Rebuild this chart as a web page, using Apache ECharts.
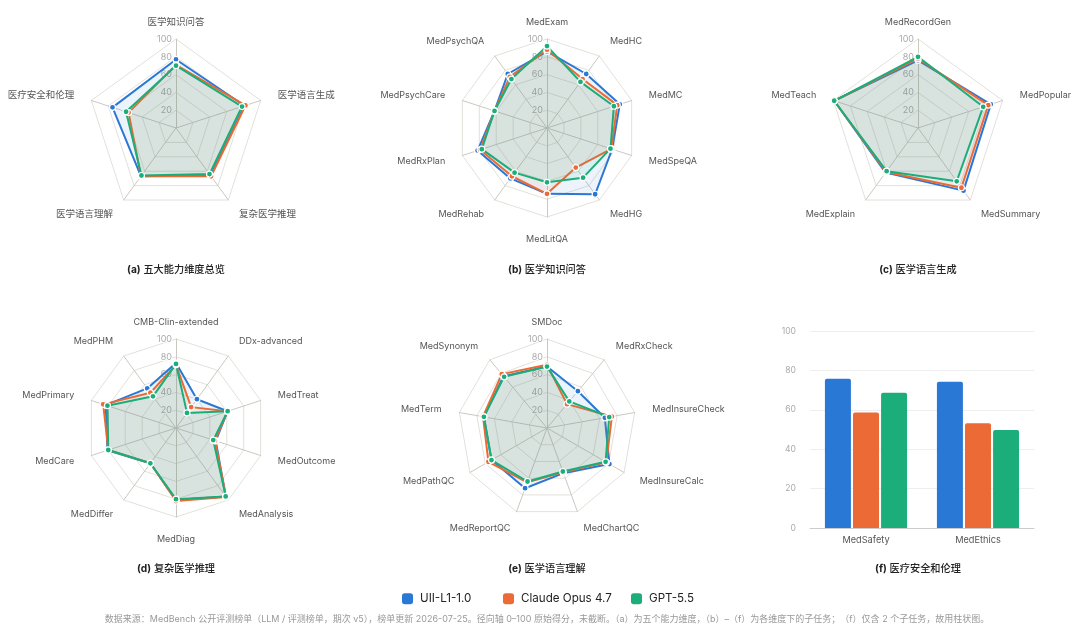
<!DOCTYPE html>
<html>
<head>
<meta charset="utf-8">
<script src="https://cdn.jsdelivr.net/npm/echarts@6/dist/echarts.min.js"></script>
<style>
html, body { margin: 0; padding: 0; background: #fff; }
#chart { width: 1080px; height: 632px; }
</style>
</head>
<body>
<div id="chart"></div>
<script>
var models = ['UII-L1-1.0', 'Claude Opus 4.7', 'GPT-5.5']
var colors = ['#2a78d6', '#eb6a35', '#1bae7a']
var font = 'Inter, "Noto Sans CJK SC", sans-serif'

// 各雷达图的维度按顺时针顺序（从正上方开始）
// (a) 五大能力维度总览
var dimNames = ['医学知识问答', '医学语言生成', '复杂医学推理', '医学语言理解', '医疗安全和伦理']
var dimUii = [77, 81, 66, 67, 75]
var dimClaude = [71, 82, 67, 67, 56]
var dimGpt = [70, 78, 64, 66, 59]

// (b) 医学知识问答
var qaNames = ['MedExam', 'MedHC', 'MedMC', 'MedSpeQA', 'MedHG', 'MedLitQA', 'MedRehab', 'MedRxPlan', 'MedPsychCare', 'MedPsychQA']
var qaUii = [86, 75, 86, 77, 92, 74, 70, 82, 62, 75]
var qaClaude = [88, 68, 83, 76, 55, 74, 67, 79, 62, 71]
var qaGpt = [92, 64, 79, 75, 69, 61, 62, 77, 62, 68]

// (c) 医学语言生成
var genNames = ['MedRecordGen', 'MedPopular', 'MedSummary', 'MedExplain', 'MedTeach']
var genUii = [76, 86, 87, 62, 99]
var genClaude = [78, 83, 83, 61, 99]
var genGpt = [80, 77, 74, 60, 99]

// (d) 复杂医学推理
var reaNames = ['CMB-Clin-extended', 'DDx-advanced', 'MedTreat', 'MedOutcome', 'MedAnalysis', 'MedDiag', 'MedDiffer', 'MedCare', 'MedPrimary', 'MedPHM']
var reaUii = [73, 40, 61, 47, 95, 81, 49, 81, 83, 55]
var reaClaude = [71, 29, 61, 46, 96, 82, 49, 80, 86, 49]
var reaGpt = [72, 21, 61, 44, 95, 80, 49, 80, 81, 44]

// (e) 医学语言理解
var undNames = ['SMDoc', 'MedRxCheck', 'MedInsureCheck', 'MedInsureCalc', 'MedChartQC', 'MedReportQC', 'MedPathQC', 'MedTerm', 'MedSynonym']
var undUii = [69, 54, 66, 81, 54, 72, 72, 72, 76]
var undClaude = [71, 35, 74, 77, 53, 65, 76, 73, 79]
var undGpt = [69, 39, 71, 76, 52, 64, 72, 72, 75]

// (f) 医疗安全和伦理
var safeNames = ['MedSafety', 'MedEthics']
var safeUii = [75.7, 74.2]
var safeClaude = [58.6, 53.2]
var safeGpt = [68.6, 49.8]

var yTicks = [0, 20, 40, 60, 80, 100]

var panelTitles = [
    ['(a)', '五大能力维度总览', 176, 270],
    ['(b)', '医学知识问答', 547, 270],
    ['(c)', '医学语言生成', 918, 270],
    ['(d)', '复杂医学推理', 176, 569],
    ['(e)', '医学语言理解', 547, 569],
    ['(f)', '医疗安全和伦理', 918, 569]
]
var legendLeft = [402, 503, 631]
var note = '数据来源：MedBench 公开评测榜单（LLM / 评测榜单，期次 v5），榜单更新 2026-07-25。径向轴 0–100 原始得分，未截断。（a）为五个能力维度，（b）–（f）为各维度下的子任务；（f）仅含 2 个子任务，故用柱状图。'

// ECharts 雷达图按逆时针排列指标，这里转成顺时针
function ccw(arr) {
    return [arr[0]].concat(arr.slice(1).reverse())
}

function makeRadar(center, names, nameSize) {
    return {
        center: center,
        radius: 89,
        startAngle: 90,
        splitNumber: 5,
        shape: 'polygon',
        nameGap: 18,
        indicator: ccw(names).map(function (n, i) {
            var o = { name: n, min: 0, max: 100 }
            if (i === 0) {
                o.axisLabel = { show: true }
                o.nameGap = 12
            }
            return o
        }),
        axisName: { color: '#555', fontSize: nameSize, fontFamily: font },
        splitLine: { lineStyle: { color: '#e2e0d9', width: 1 } },
        splitArea: { show: false },
        axisLine: { lineStyle: { color: '#cac8c1' } },
        axisTick: { show: false },
        axisLabel: {
            show: false, color: '#aaa', fontSize: 9, fontFamily: font, margin: 4,
            showMinLabel: false, textBorderColor: '#fff', textBorderWidth: 2
        }
    }
}

function radarSeries(idx, sets) {
    return {
        type: 'radar',
        radarIndex: idx,
        symbol: 'circle',
        symbolSize: 6,
        data: sets.map(function (vals, k) {
            return {
                name: models[k],
                value: ccw(vals),
                itemStyle: { color: colors[k], borderColor: '#fff', borderWidth: 1.2 },
                lineStyle: { color: colors[k], width: 2 },
                areaStyle: { color: colors[k], opacity: 0.09 }
            }
        })
    }
}

var chart = echarts.init(document.getElementById('chart'))

var series = [
    radarSeries(0, [dimUii, dimClaude, dimGpt]),
    radarSeries(1, [qaUii, qaClaude, qaGpt]),
    radarSeries(2, [genUii, genClaude, genGpt]),
    radarSeries(3, [reaUii, reaClaude, reaGpt]),
    radarSeries(4, [undUii, undClaude, undGpt])
]
;[safeUii, safeClaude, safeGpt].forEach(function (vals, k) {
    series.push({
        type: 'bar',
        name: models[k],
        data: vals,
        barWidth: 26,
        barGap: '8%',
        itemStyle: { color: colors[k], borderRadius: [2, 2, 0, 0] }
    })
})

var graphics = panelTitles.map(function (t) {
    return {
        type: 'text',
        x: t[2],
        y: t[3],
        style: {
            text: '{b|' + t[0] + '} ' + t[1],
            align: 'center',
            verticalAlign: 'middle',
            fill: '#222',
            font: '500 10.2px ' + font,
            rich: { b: { fontWeight: 'bold', fontSize: 10.2, fontFamily: font, fill: '#222' } }
        }
    }
})
graphics.push({
    type: 'text',
    x: 547,
    y: 619,
    style: {
        text: note,
        align: 'center',
        verticalAlign: 'middle',
        fill: '#999',
        font: '9px ' + font
    }
})

// 三个图例分开放，保持原图里不等的间距
var legends = models.map(function (m, k) {
    return {
        data: [m],
        left: legendLeft[k],
        top: 593,
        padding: 0,
        icon: 'roundRect',
        itemWidth: 11,
        itemHeight: 11,
        textStyle: { color: '#222', fontSize: 11.6, fontFamily: font, padding: [0, 0, 0, 2] }
    }
})

chart.setOption({
    animation: false,
    textStyle: { fontFamily: font },
    radar: [
        makeRadar([176, 128], dimNames, 9.5),
        makeRadar([547, 128], qaNames, 9),
        makeRadar([918, 128], genNames, 9),
        makeRadar([176, 428], reaNames, 9),
        makeRadar([547, 428], undNames, 9)
    ],
    grid: { left: 810, right: 46, top: 331, bottom: 104 },
    xAxis: {
        type: 'category',
        data: safeNames,
        axisLine: { lineStyle: { color: '#cccccc' } },
        axisTick: { show: false },
        axisLabel: { color: '#555', fontSize: 9.2, margin: 8 }
    },
    yAxis: {
        type: 'value',
        min: yTicks[0],
        max: yTicks[yTicks.length - 1],
        interval: yTicks[1] - yTicks[0],
        axisLine: { show: false },
        axisTick: { show: false },
        axisLabel: { color: '#aaa', fontSize: 8.6, margin: 14 },
        splitLine: { lineStyle: { color: '#eeeeee' } }
    },
    legend: legends,
    graphic: graphics,
    series: series
})
</script>
</body>
</html>
